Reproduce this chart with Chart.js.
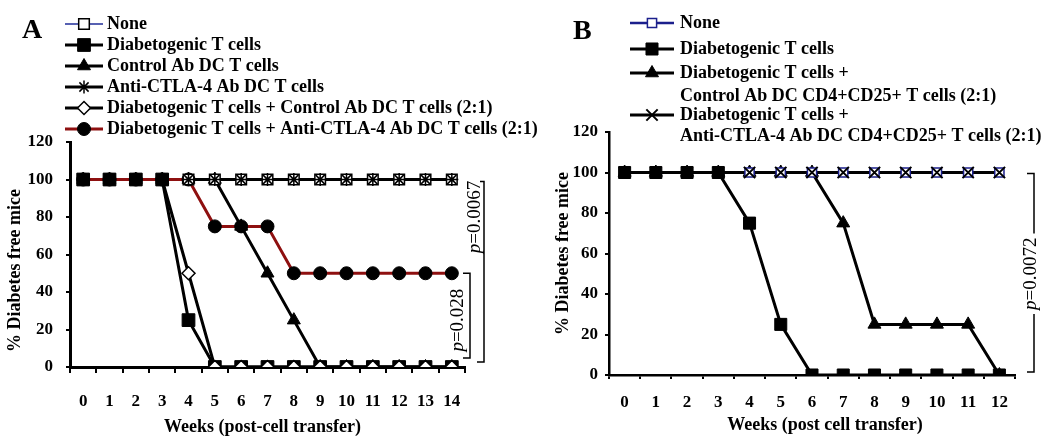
<!DOCTYPE html>
<html>
<head>
<meta charset="utf-8">
<script src="https://cdn.jsdelivr.net/npm/chart.js@4.4.1/dist/chart.umd.min.js"></script>
<style>
  html, body { margin: 0; padding: 0; background: #fff; }
  #wrap { position: relative; width: 1050px; height: 446px; }
  canvas { position: absolute; top: 0; }
</style>
</head>
<body>
<div id="wrap">
  <canvas id="chartA" width="570" height="446" style="left:0"></canvas>
  <canvas id="chartB" width="520" height="446" style="left:530px"></canvas>
</div>
<script>
// ---- Panel A data (weeks after cell transfer, % diabetes free) ----
const weeksA = ['0', '1', '2', '3', '4', '5', '6', '7', '8', '9', '10', '11', '12', '13', '14'];
const noneA = [100, 100, 100, 100, 100, 100, 100, 100, 100, 100, 100, 100, 100, 100, 100];
const diabA = [100, 100, 100, 100, 25, 0, 0, 0, 0, 0, 0, 0, 0, 0, 0];
const ctrlA = [100, 100, 100, 100, 100, 100, 75, 50, 25, 0, 0, 0, 0, 0, 0];
const antiA = [100, 100, 100, 100, 100, 100, 100, 100, 100, 100, 100, 100, 100, 100, 100];
const diabCtrlA = [100, 100, 100, 100, 50, 0, 0, 0, 0, 0, 0, 0, 0, 0, 0];
const diabAntiA = [100, 100, 100, 100, 100, 75, 75, 75, 50, 50, 50, 50, 50, 50, 50];

// ---- Panel B data ----
const weeksB = ['0', '1', '2', '3', '4', '5', '6', '7', '8', '9', '10', '11', '12'];
const noneB = [100, 100, 100, 100, 100, 100, 100, 100, 100, 100, 100, 100, 100];
const diabB = [100, 100, 100, 100, 75, 25, 0, 0, 0, 0, 0, 0, 0];
const diabCtrlB = [100, 100, 100, 100, 100, 100, 100, 75, 25, 25, 25, 25, 0];
const diabAntiB = [100, 100, 100, 100, 100, 100, 100, 100, 100, 100, 100, 100, 100];

const yTicks = [0, 20, 40, 60, 80, 100, 120];

const SERIF = "'Liberation Serif', 'Times New Roman', serif";
Chart.defaults.font.family = SERIF;
Chart.defaults.color = '#000';

// series styles
const seriesA = [
  { label: 'None', data: noneA, line: '#1f2c99', lineWidth: 1.5, style: 'rect', radius: 7.5, fill: '#fff', edge: '#000', edgeWidth: 1.5, lineOrder: 15, pointOrder: 3 },
  { label: 'Diabetogenic T cells', data: diabA, line: '#000', lineWidth: 3, style: 'rect', radius: 9, fill: '#000', edge: '#000', edgeWidth: 1, lineOrder: 11, pointOrder: 1 },
  { label: 'Control Ab DC T cells', data: ctrlA, line: '#000', lineWidth: 3, style: 'triangle', radius: 7.5, fill: '#000', edge: '#000', edgeWidth: 1, lineOrder: 12, pointOrder: 4 },
  { label: 'Anti-CTLA-4 Ab DC T cells', data: antiA, line: '#000', lineWidth: 3, style: 'star', radius: 6.5, fill: '#000', edge: '#000', edgeWidth: 1.5, lineOrder: 14, pointOrder: 2 },
  { label: 'Diabetogenic T cells + Control Ab DC T cells (2:1)', data: diabCtrlA, line: '#000', lineWidth: 3, style: 'rectRot', radius: 6.5, fill: '#fff', edge: '#000', edgeWidth: 1.5, lineOrder: 13, pointOrder: 0, hideTop: true },
  { label: 'Diabetogenic T cells + Anti-CTLA-4 Ab DC T cells (2:1)', data: diabAntiA, line: '#8e1010', lineWidth: 3, style: 'circle', radius: 6.5, fill: '#000', edge: '#000', edgeWidth: 1, lineOrder: 10, pointOrder: 5 }
];

const seriesB = [
  { label: 'None', data: noneB, line: '#1b1f8c', lineWidth: 2.5, style: 'rect', radius: 6.5, fill: '#fff', edge: '#1b1f8c', edgeWidth: 1.5, lineOrder: 13, pointOrder: 2 },
  { label: 'Diabetogenic T cells', data: diabB, line: '#000', lineWidth: 3, style: 'rect', radius: 8.5, fill: '#000', edge: '#000', edgeWidth: 1, lineOrder: 11, pointOrder: 0 },
  { label: 'Diabetogenic T cells + Control Ab DC CD4+CD25+ T cells (2:1)', data: diabCtrlB, line: '#000', lineWidth: 3, style: 'triangle', radius: 7.5, fill: '#000', edge: '#000', edgeWidth: 1, lineOrder: 10, pointOrder: 3 },
  { label: 'Diabetogenic T cells + Anti-CTLA-4 Ab DC CD4+CD25+ T cells (2:1)', data: diabAntiB, line: '#000', lineWidth: 3, style: 'crossRot', radius: 8, fill: '#000', edge: '#000', edgeWidth: 2, lineOrder: 12, pointOrder: 1 }
];

// lines first, markers on top (one line set and one marker set per series)
function buildDatasets(series) {
  const sets = [];
  series.forEach(s => {
    sets.push({
      label: s.label, data: s.data, borderColor: s.line, borderWidth: s.lineWidth,
      pointRadius: 0, pointHoverRadius: 0, fill: false, tension: 0, order: s.lineOrder
    });
    sets.push({
      label: s.label, data: s.data, showLine: false, pointStyle: s.style,
      pointRadius: s.hideTop ? (c => c.raw === 100 ? 0 : s.radius) : s.radius,
      pointHoverRadius: s.radius,
      pointBackgroundColor: s.fill, pointBorderColor: s.edge, pointBorderWidth: s.edgeWidth,
      order: s.pointOrder
    });
  });
  return sets;
}

function makeScales(o) {
  return {
    x: {
      type: 'category', offset: true,
      grid: { offset: true, drawOnChartArea: false, drawTicks: true, tickLength: o.xTick, color: '#000', lineWidth: 2 },
      border: { display: true, color: '#000', width: o.axisWidth },
      ticks: { padding: o.xPad, autoSkip: false, maxRotation: 0, color: '#000', font: { size: 17, weight: 'bold' } },
      afterFit: s => { s.height = o.xHeight; }
    },
    y: {
      min: 0, max: 120,
      afterBuildTicks: s => { s.ticks = yTicks.map(v => ({ value: v })); },
      grid: { drawOnChartArea: false, drawTicks: true, tickLength: 4, color: '#000', lineWidth: 2 },
      border: { display: true, color: '#000', width: o.axisWidth },
      ticks: { padding: o.yPad, color: '#000', font: { size: 17, weight: 'bold' } },
      afterFit: s => { s.width = o.yWidth; }
    }
  };
}

function drawKey(ctx, s, x0, x1, y) {
  ctx.save();
  ctx.strokeStyle = s.line;
  ctx.lineWidth = s.lineWidth;
  ctx.beginPath();
  ctx.moveTo(x0, y);
  ctx.lineTo(x1, y);
  ctx.stroke();
  ctx.fillStyle = s.fill;
  ctx.strokeStyle = s.edge;
  ctx.lineWidth = s.edgeWidth;
  Chart.helpers.drawPoint(ctx, { pointStyle: s.style, radius: s.radius, rotation: 0, borderWidth: s.edgeWidth }, (x0 + x1) / 2, y);
  ctx.restore();
}

// rotated "p=..." label, returns its length
function drawP(ctx, x, y, num) {
  const size = 19;
  ctx.save();
  ctx.translate(x, y);
  ctx.rotate(-Math.PI / 2);
  ctx.font = 'italic ' + size + 'px ' + SERIF;
  const wp = ctx.measureText('p').width;
  ctx.font = size + 'px ' + SERIF;
  const wr = ctx.measureText('=' + num).width;
  const start = -(wp + wr) / 2;
  ctx.fillStyle = '#000';
  ctx.textBaseline = 'middle';
  ctx.textAlign = 'left';
  ctx.font = 'italic ' + size + 'px ' + SERIF;
  ctx.fillText('p', start, 0);
  ctx.font = size + 'px ' + SERIF;
  ctx.fillText('=' + num, start + wp, 0);
  ctx.restore();
  return wp + wr;
}

function bracket(ctx, lx, top, bot, armTop, armBot) {
  ctx.beginPath();
  ctx.moveTo(lx - armTop, top);
  ctx.lineTo(lx, top);
  ctx.lineTo(lx, bot);
  ctx.lineTo(lx - armBot, bot);
  ctx.stroke();
}

function panelPlugin(info) {
  return {
    id: 'panel' + info.letter,
    afterDraw(chart) {
      const ctx = chart.ctx;
      const y = chart.scales.y;
      const area = chart.chartArea;
      ctx.save();
      // panel letter
      ctx.fillStyle = '#000';
      ctx.font = 'bold 28px ' + SERIF;
      ctx.textBaseline = 'middle';
      ctx.textAlign = 'left';
      ctx.fillText(info.letter, info.letterX, info.letterY);
      // legend
      info.key.forEach(k => {
        drawKey(ctx, info.series[k.i], info.keyX0, info.keyX1, k.y[0]);
        ctx.fillStyle = '#000';
        ctx.font = 'bold 18px ' + SERIF;
        ctx.textBaseline = 'middle';
        ctx.textAlign = 'left';
        k.text.forEach((t, j) => ctx.fillText(t, info.textX, k.y[j]));
      });
      // axis titles
      ctx.font = 'bold 18px ' + SERIF;
      ctx.textAlign = 'center';
      ctx.textBaseline = 'middle';
      ctx.fillText(info.xTitle, (area.left + area.right) / 2 + info.xTitleShift, area.bottom + info.xTitleDrop);
      ctx.save();
      ctx.translate(info.yTitleX, (area.top + area.bottom) / 2 + info.yTitleShift);
      ctx.rotate(-Math.PI / 2);
      ctx.fillText('% Diabetes free mice', 0, 0);
      ctx.restore();
      // significance brackets
      ctx.strokeStyle = '#000';
      ctx.lineWidth = 1.5;
      info.brackets(ctx, area, y);
      ctx.restore();
    }
  };
}

new Chart(document.getElementById('chartA'), {
  type: 'line',
  data: { labels: weeksA, datasets: buildDatasets(seriesA) },
  options: {
    responsive: false, animation: false,
    layout: { padding: { left: 0, right: 105, top: 142, bottom: 0 } },
    plugins: { legend: { display: false }, tooltip: { enabled: false } },
    scales: makeScales({ xTick: 6, xPad: 18, xHeight: 79, axisWidth: 3, yPad: 13, yWidth: 70 })
  },
  plugins: [panelPlugin({
    letter: 'A', letterX: 22, letterY: 31,
    series: seriesA, keyX0: 65, keyX1: 103, textX: 107,
    key: [
      { i: 0, y: [24], text: ['None'] },
      { i: 1, y: [45], text: ['Diabetogenic T cells'] },
      { i: 2, y: [66], text: ['Control Ab DC T cells'] },
      { i: 3, y: [87], text: ['Anti-CTLA-4 Ab DC T cells'] },
      { i: 4, y: [108], text: ['Diabetogenic T cells + Control Ab DC T cells (2:1)'] },
      { i: 5, y: [129], text: ['Diabetogenic T cells + Anti-CTLA-4 Ab DC T cells (2:1)'] }
    ],
    xTitle: 'Weeks (post-cell transfer)', xTitleShift: -5, xTitleDrop: 60,
    yTitleX: 15, yTitleShift: 16,
    brackets: (ctx, area, y) => {
      const lx = area.right + 19;
      bracket(ctx, lx, y.getPixelForValue(100) + 2, y.getPixelForValue(0) - 5, 4, 7);
      drawP(ctx, lx - 9, y.getPixelForValue(80), '0.0067');
      const lx2 = area.right + 5;
      bracket(ctx, lx2, y.getPixelForValue(50), y.getPixelForValue(0) - 9, 7, 7);
      drawP(ctx, lx2 - 12, y.getPixelForValue(25), '0.028');
    }
  })]
});

new Chart(document.getElementById('chartB'), {
  type: 'line',
  data: { labels: weeksB, datasets: buildDatasets(seriesB) },
  options: {
    responsive: false, animation: false,
    layout: { padding: { left: 0, right: 35, top: 132, bottom: 0 } },
    plugins: { legend: { display: false }, tooltip: { enabled: false } },
    scales: makeScales({ xTick: 4, xPad: 13, xHeight: 71, axisWidth: 2.5, yPad: 7, yWidth: 79 })
  },
  plugins: [panelPlugin({
    letter: 'B', letterX: 43, letterY: 32,
    series: seriesB, keyX0: 100, keyX1: 144, textX: 150,
    key: [
      { i: 0, y: [23], text: ['None'] },
      { i: 1, y: [49], text: ['Diabetogenic T cells'] },
      { i: 2, y: [73, 96], text: ['Diabetogenic T cells +', 'Control Ab DC CD4+CD25+ T cells (2:1)'] },
      { i: 3, y: [115, 136], text: ['Diabetogenic T cells +', 'Anti-CTLA-4 Ab DC CD4+CD25+ T cells (2:1)'] }
    ],
    xTitle: 'Weeks (post cell transfer)', xTitleShift: 13, xTitleDrop: 50,
    yTitleX: 33, yTitleShift: 0,
    brackets: (ctx, area, y) => {
      const lx = area.right + 19;
      const top = y.getPixelForValue(100) + 1;
      const bot = y.getPixelForValue(0) - 3;
      const mid = y.getPixelForValue(50);
      const len = drawP(ctx, lx - 3, mid, '0.0072');
      ctx.beginPath();
      ctx.moveTo(lx - 7, top);
      ctx.lineTo(lx, top);
      ctx.lineTo(lx, mid - len / 2 - 4);
      ctx.moveTo(lx, mid + len / 2 + 4);
      ctx.lineTo(lx, bot);
      ctx.lineTo(lx - 7, bot);
      ctx.stroke();
    }
  })]
});
</script>
</body>
</html>
